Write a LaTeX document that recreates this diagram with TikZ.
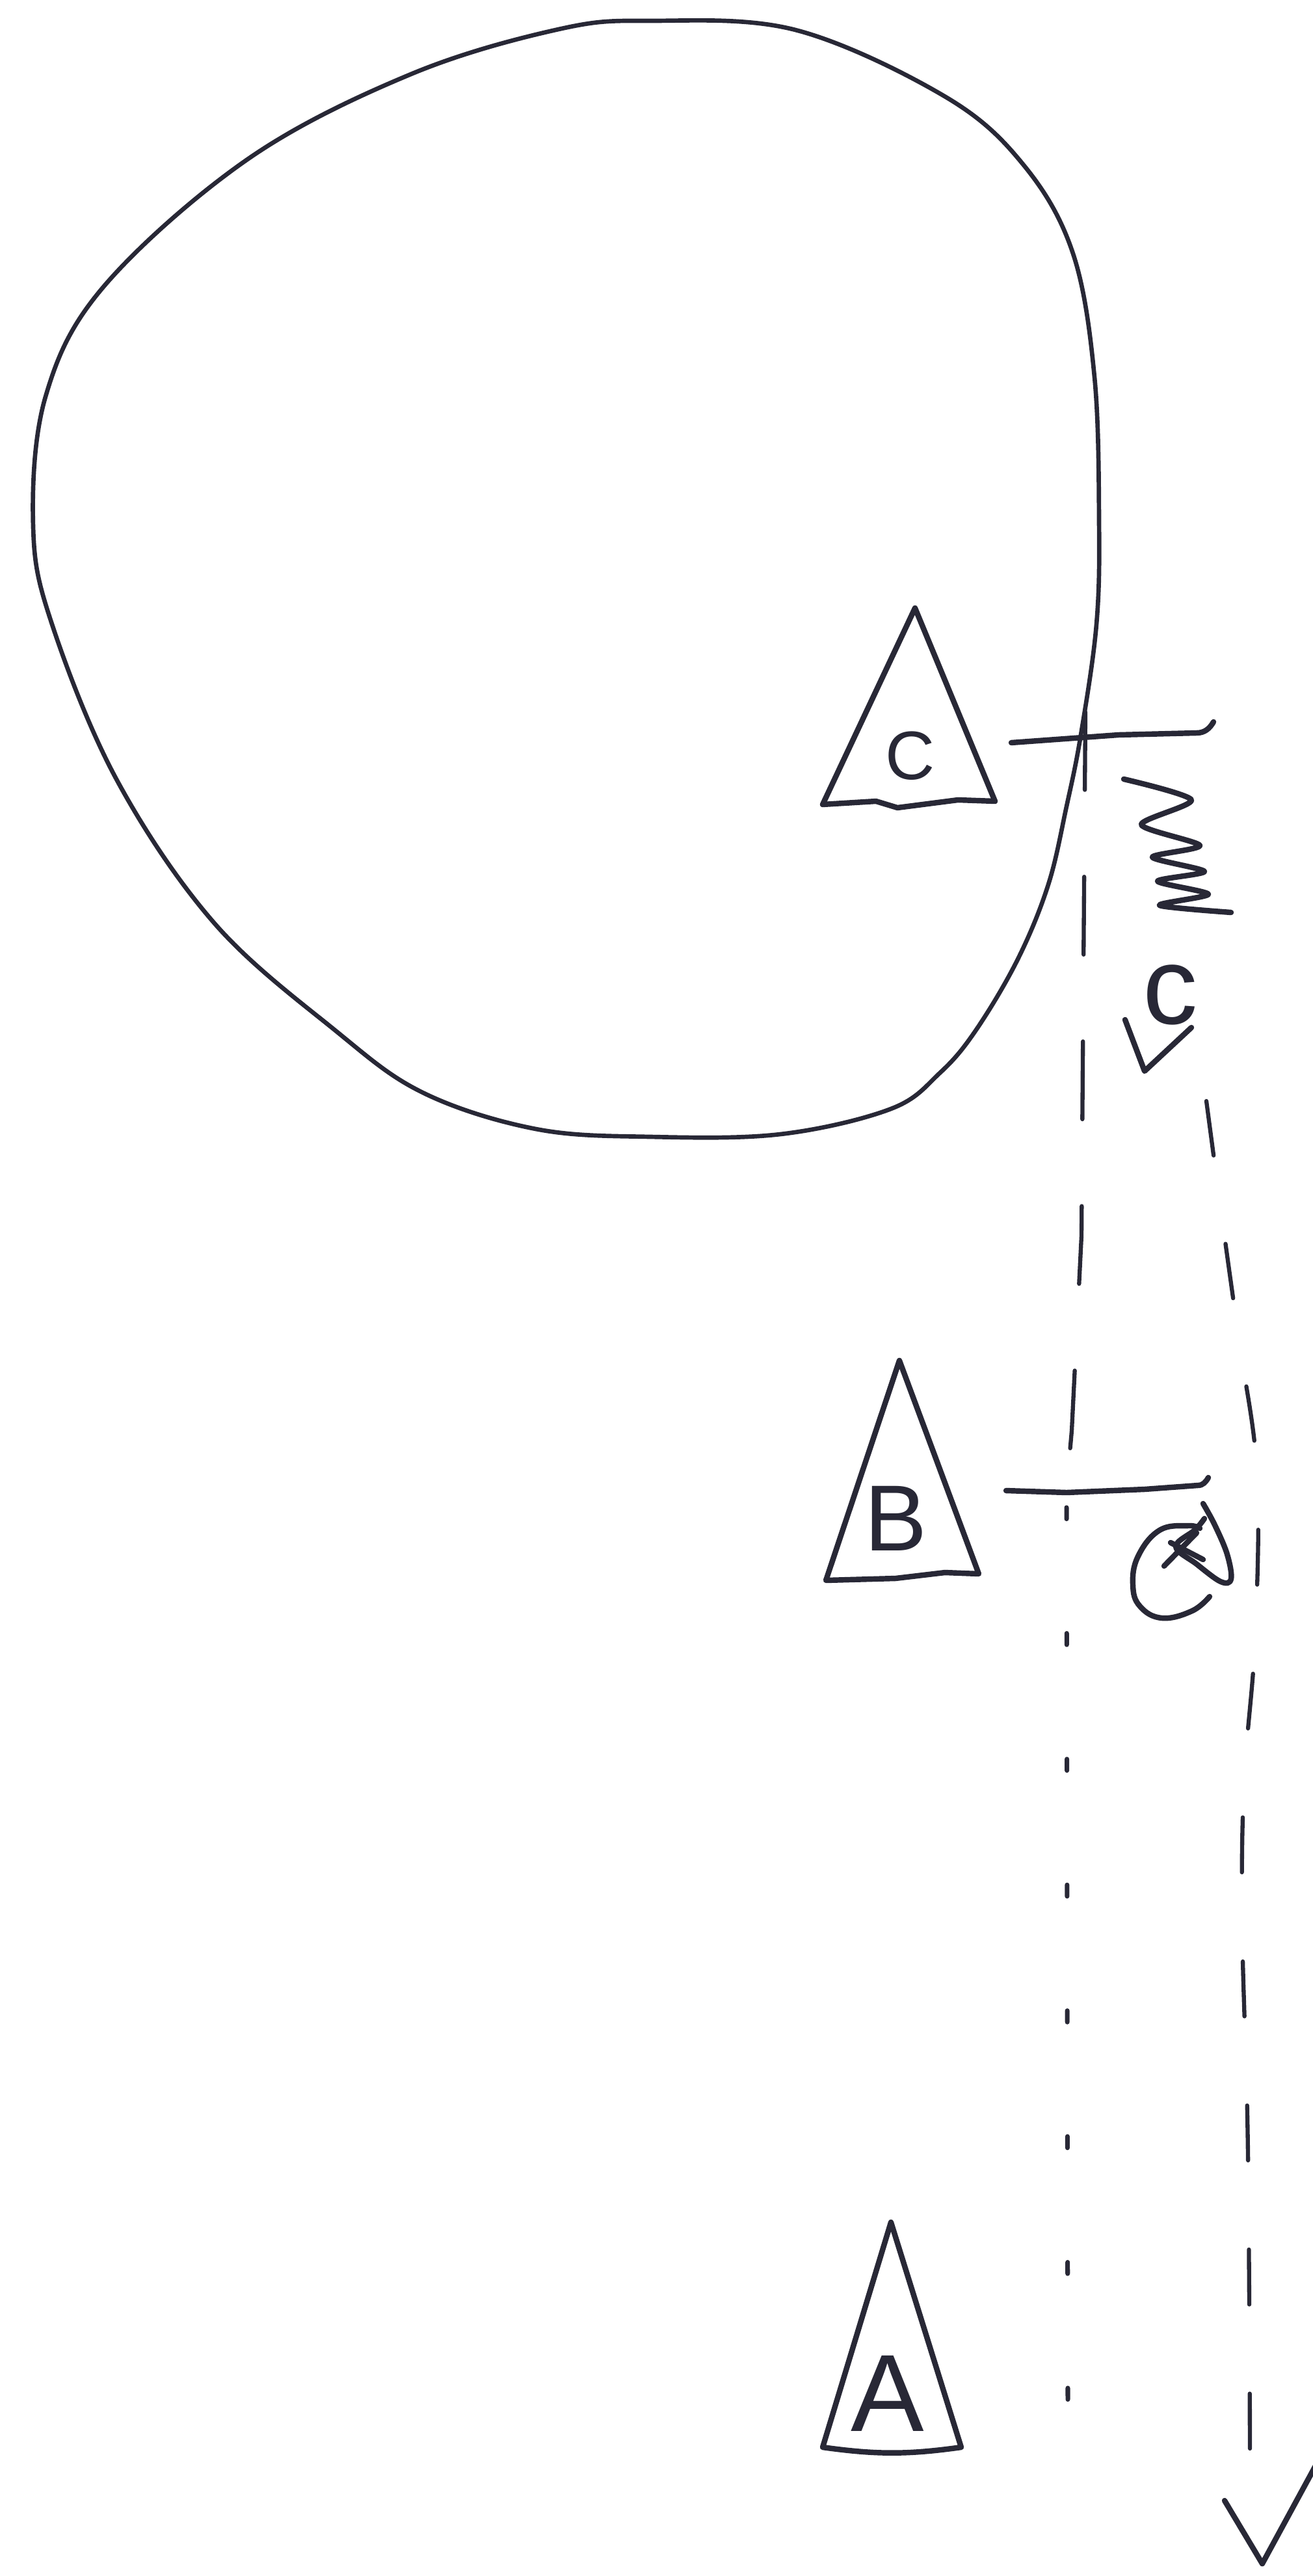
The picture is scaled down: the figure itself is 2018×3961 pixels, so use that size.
\documentclass[tikz,border=0pt]{standalone}
\usepackage{fontspec}
\setmainfont{Liberation Sans}
\usetikzlibrary{calc}
\definecolor{ink}{RGB}{40,40,54}
\tikzset{>=latex}
\tikzstyle{rim} = [line width = 1.9pt, color = ink, line join = round, line cap = round]
\tikzstyle{hand} = [%
					line width = 2.4pt,
					color = ink,
					line join = round,
					line cap = round]
\tikzstyle{vertical} = [%
					line width = 1.8pt,
					color = ink,
					line cap = round,
					dash pattern = on 34pt off 38pt]
\tikzstyle{sparse} = [%
					line width = 2pt,
					color = ink,
					line cap = round,
					dash pattern = on 5pt off 50pt]
\tikzstyle{falling} = [%
					line width = 1.8pt,
					color = ink,
					line cap = round,
					dash pattern = on 24pt off 39pt]
\tikzstyle{letter} = [inner sep = 0pt, text = ink]

\begin{document}
\begin{tikzpicture}[x=0.01cm, y=-0.01cm]
	\useasboundingbox (0,0) rectangle (2018,3961);

	% Coordinates
	%% Triangles
	\coordinate (C1) at (1407,935);
	\coordinate (C2) at (1265,1237);
	\coordinate (C3) at (1530,1232);
	\coordinate (B1) at (1383,2092);
	\coordinate (B2) at (1270,2430);
	\coordinate (B3) at (1505,2420);
	\coordinate (A1) at (1370,3417);
	\coordinate (A2) at (1265,3763);
	\coordinate (A3) at (1478,3763);
	%% Lines
	\coordinate (H)  at (1555,1142);
	\coordinate (H') at (1866,1110);
	\coordinate (K)  at (1547,2292);
	\coordinate (K') at (1858,2272);
	\coordinate (T)  at (1669,1095);
	\coordinate (X)  at (1640,2318);
	\coordinate (Y)  at (1642,3690);
	\coordinate (P)  at (1855,1693);
	\coordinate (Q)  at (1922,3771);
	\coordinate (V)  at (1941,3942);
	\coordinate (W)  at (1760,1647);

	% Planet
	\draw[rim] plot[smooth cycle, tension=0.6] coordinates {(1000,32) (1223,46) (1454,149) (1575,255) (1650,390) (1683,580) (1690,800) (1686,960) (1662,1130) (1640,1240) (1612,1360) (1565,1475) (1500,1585) (1445,1650) (1370,1705) (1200,1744) (1000,1748) (824,1736) (650,1680) (515,1584) (330,1420) (180,1200) (80,960) (51,810) (70,610) (160,440) (382,244) (632,114) (859,45)};

	% Triangles
	\draw[hand] (C1) -- (C2) -- (1347,1232) -- (1380,1242) -- (1473,1230) -- (C3) -- cycle;
	\draw[hand] (B1) -- (B2) -- (1377,2427) -- (1453,2418) -- (B3) -- cycle;
	\draw[hand] (A1) -- (A2) to[bend right=8] (A3) -- cycle;

	% Nodes
	\node[letter, font=\fontsize{30}{32}\selectfont] (c) at (1400,1162) {C};
	\node[letter, font=\fontsize{41}{44}\selectfont] (b) at (1378,2335) {B};
	\node[letter, font=\fontsize{48}{52}\selectfont] (a) at (1365,3680) {A};
	\node[letter, font=\fontsize{48}{52}\selectfont] (s) at (1800,1530) {c};

	% Horizontal marks
	\draw[hand] (H) -- (1720,1130) -- (1840,1127) to[out=0, in=-120] (H');
	\draw[hand] (K) -- (1640,2295) -- (1760,2290) -- (1842,2284) to[out=0, in=-120] (K');

	% Dashed
	\draw[vertical] (T) -- (1663,1900) -- (1648,2200) -- (1640,2290);
	\draw[sparse] (X) -- (Y);
	\draw[falling] plot[smooth, tension=0.6] coordinates {(P) (1880,1880) (1905,2060) (1933,2265) (1930,2520) (1913,2740) (1910,2960) (1918,3250) (1921,3540) (Q)};
	\draw[hand] (1883,3845) -- (V) -- (2040,3760);

	% Wave
	\draw[hand] plot[smooth, tension=0.45] coordinates {(1728,1198) (1832,1230) (1755,1268) (1845,1300) (1772,1318) (1852,1340) (1780,1355) (1858,1375) (1783,1392) (1893,1403)};
	\draw[hand] (1730,1568) -- (W) -- (1832,1580);

	% Clock
	\draw[hand] plot[smooth, tension=0.7] coordinates {(1860,2455) (1833,2477) (1787,2488) (1753,2470) (1742,2437) (1750,2393) (1783,2353) (1827,2346) (1845,2350)};
	\draw[hand] plot[smooth, tension=0.6] coordinates {(1850,2312) (1868,2345) (1887,2390) (1893,2428) (1877,2432) (1840,2405) (1808,2378) (1838,2352) (1852,2335)};
	\draw[hand] (1790,2408) -- (1840,2357);
	\draw[hand] (1800,2372) -- (1850,2398);
\end{tikzpicture}
\end{document}
